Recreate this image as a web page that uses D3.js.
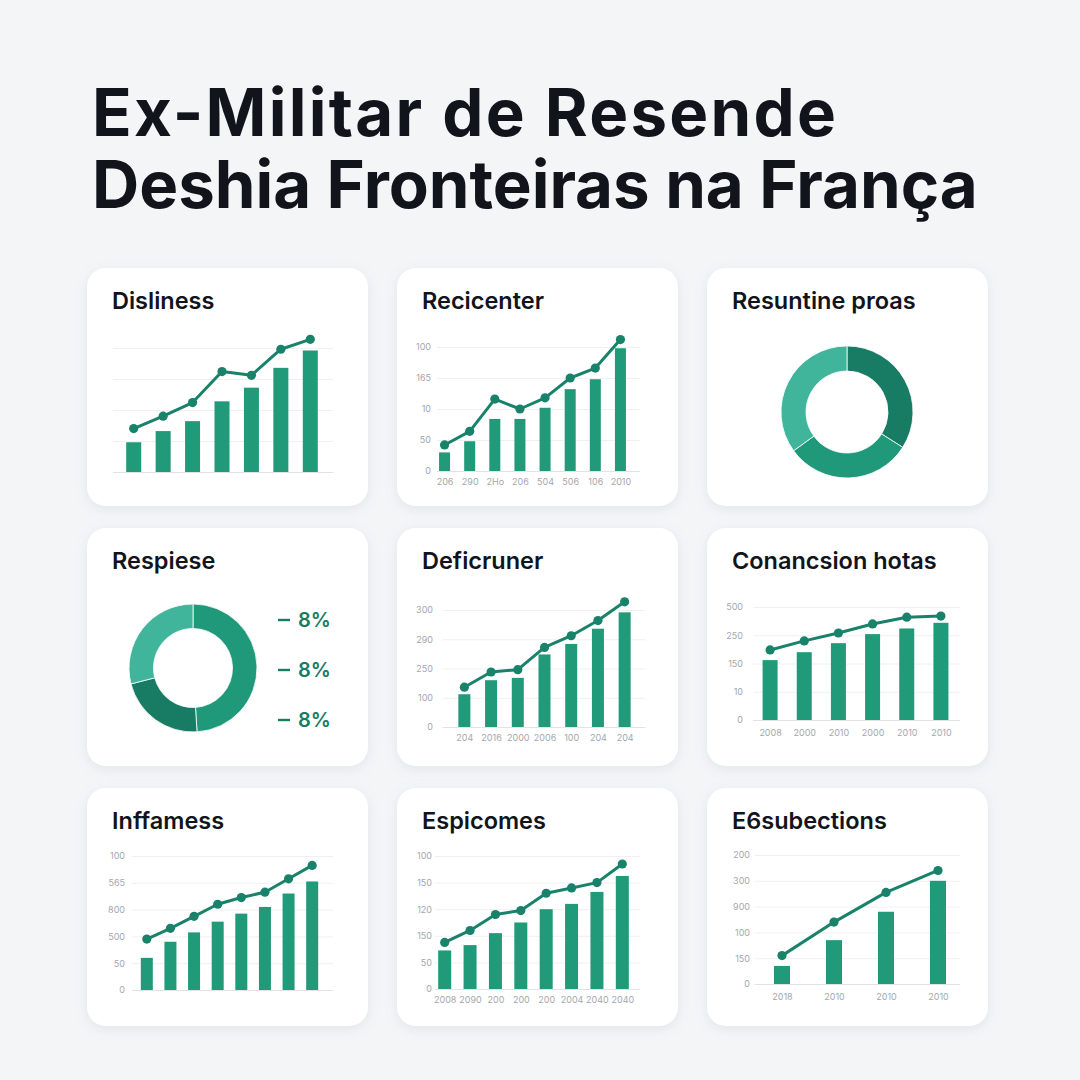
<!DOCTYPE html>
<html><head><meta charset="utf-8">
<script src="https://cdn.jsdelivr.net/npm/d3@7"></script>
<style>
html,body{margin:0;padding:0;background:#f3f5f7;}
svg{display:block;font-family:Inter,"Noto Sans",sans-serif;}
</style>
</head><body>
<svg id="chart" width="1080" height="1080"></svg>
<script>
// ---------- DATA ----------
const titleLines = ["Ex-Militar de Resende", "Deshia Fronteiras na França"];
const cardTitles = ["Disliness", "Recicenter", "Resuntine proas",
                    "Respiese", "Deficruner", "Conancsion hotas",
                    "Inffamess", "Espicomes", "E6subections"];

// 1 Disliness
const disBars = [24, 33, 41, 57, 68, 84, 98];
const disLine = [35, 45, 56, 81, 78, 99, 107];
const disYTicks = ["", "", "", "", ""];

// 2 Recicenter
const recBars = [15, 24, 42, 42, 51, 66, 74, 99];
const recLine = [21, 32, 58, 50, 59, 75, 83, 106];
const recYTicks = ["0", "50", "10", "165", "100"];
const recXTicks = ["206", "290", "2Ho", "206", "504", "506", "106", "2010"];

// 3 Resuntine proas (donut)
const resDonut = [34, 31, 35];

// 4 Respiese (donut + legend)
const respDonut = [49, 22, 29];
const respLegend = ["8%", "8%", "8%"];

// 5 Deficruner
const defBars = [28, 40, 42, 62, 71, 84, 98];
const defLine = [34, 47, 49, 68, 78, 91, 107];
const defYTicks = ["0", "100", "250", "290", "300"];
const defXTicks = ["204", "2016", "2000", "2006", "100", "204", "204"];

// 6 Conancsion hotas
const conBars = [53, 60, 68, 76, 81, 86];
const conLine = [62, 70, 77, 85, 91, 92];
const conYTicks = ["0", "10", "150", "250", "500"];
const conXTicks = ["2008", "2000", "2010", "2000", "2010", "2010"];

// 7 Inffamess
const infBars = [24, 36, 43, 51, 57, 62, 72, 81];
const infLine = [38, 46, 55, 64, 69, 73, 83, 93];
const infYTicks = ["0", "50", "500", "800", "565", "100"];

// 8 Espicomes
const espBars = [29, 33, 42, 50, 60, 64, 73, 85];
const espLine = [35, 44, 56, 59, 72, 76, 80, 94];
const espYTicks = ["0", "50", "150", "120", "150", "100"];
const espXTicks = ["2008", "2090", "200", "200", "200", "2004", "2040", "2040"];

// 9 E6subections
const essBars = [14, 34, 56, 80];
const essLine = [22, 48, 71, 88];
const essYTicks = ["0", "150", "100", "900", "300", "200"];
const essXTicks = ["2018", "2010", "2010", "2010"];

// ---------- STYLE / LAYOUT ----------
const C = {
  bar: "#219a7a", line: "#19826a",
  dark: "#177c63", mid: "#20997a", light: "#40b59b",
  grid: "#eef0f2", axis: "#e1e4e7", tick: "#a3a8ad",
  title: "#11141b"
};
const colX = [87, 397, 707], rowY = [268, 528, 788];
const cardW = 281, cardH = 238;

const svg = d3.select("#chart");
const defs = svg.append("defs");
const f = defs.append("filter").attr("id", "sh").attr("x", "-20%").attr("y", "-20%").attr("width", "140%").attr("height", "140%");
f.append("feDropShadow").attr("dx", 0).attr("dy", 3).attr("stdDeviation", 6)
  .attr("flood-color", "#8a96a3").attr("flood-opacity", 0.16);

svg.append("rect").attr("width", 1080).attr("height", 1080).attr("fill", "#f3f5f7");

// main title: one text element, two lines, fitted to the reference widths
const tt = svg.append("text").attr("font-size", 60).attr("font-weight", 700).attr("fill", C.title);
const s1 = tt.append("tspan").attr("x", 92).attr("y", 136).text(titleLines[0]);
const s2 = tt.append("tspan").attr("x", 92).attr("y", 208).text(titleLines[1]);
const fs = 60 * 886 / s2.node().getComputedTextLength();
tt.attr("font-size", fs);
const l1 = s1.node().getComputedTextLength();
s1.attr("letter-spacing", Math.max(0, (744 - l1) / (titleLines[0].length - 1)));

// cards
const cards = [];
for (let r = 0; r < 3; r++) for (let c = 0; c < 3; c++) {
  const i = r * 3 + c;
  const g = svg.append("g").attr("transform", `translate(${colX[c]},${rowY[r]})`);
  g.append("rect").attr("width", cardW).attr("height", cardH).attr("rx", 19)
    .attr("fill", "#ffffff").attr("filter", "url(#sh)");
  g.append("text").attr("x", 25).attr("y", 41).text(cardTitles[i])
    .attr("font-size", 23.5).attr("font-weight", 600).attr("fill", C.title);
  cards.push(g);
}

function barLine(g, L, bars, line, yLabels, xLabels) {
  const n = bars.length;
  const y = d3.scaleLinear().domain([0, 100]).range([L.base, L.top]);
  const x = d3.scalePoint().domain(d3.range(n)).range([L.b0, L.b1]).padding(0.5);
  const tv = d3.range(yLabels.length).map(i => i * 100 / (yLabels.length - 1));
  const grid = g.append("g").attr("transform", `translate(${L.g0},0)`)
    .call(d3.axisLeft(y).tickValues(tv).tickSize(-(L.g1 - L.g0)).tickFormat(""));
  grid.select(".domain").remove();
  grid.selectAll("line").attr("stroke", (d) => d === 0 ? C.axis : C.grid).attr("stroke-width", 1);
  if (L.ylab) {
    const ya = g.append("g").attr("transform", `translate(${L.g0},0)`)
      .call(d3.axisLeft(y).tickValues(tv).tickSize(0).tickPadding(L.ypad).tickFormat((d, i) => yLabels[i]));
    ya.select(".domain").remove();
    ya.selectAll("text").attr("fill", C.tick).attr("font-size", 9).attr("font-family", "Inter,sans-serif");
  }
  if (xLabels) {
    const xa = g.append("g").attr("transform", `translate(0,${L.base})`)
      .call(d3.axisBottom(x).tickSize(0).tickPadding(L.xpad).tickFormat(i => xLabels[i]));
    xa.select(".domain").remove();
    xa.selectAll("text").attr("fill", C.tick).attr("font-size", 9).attr("font-family", "Inter,sans-serif");
  }
  g.append("g").selectAll("rect").data(bars).join("rect")
    .attr("x", (d, i) => x(i) - L.bw / 2).attr("width", L.bw)
    .attr("y", d => y(d)).attr("height", d => L.base - y(d)).attr("fill", C.bar);
  g.append("path").datum(line)
    .attr("d", d3.line().x((d, i) => x(i)).y(d => y(d)))
    .attr("fill", "none").attr("stroke", C.line).attr("stroke-width", 3).attr("stroke-linejoin", "round");
  g.append("g").selectAll("circle").data(line).join("circle")
    .attr("cx", (d, i) => x(i)).attr("cy", d => y(d)).attr("r", 4.6).attr("fill", C.line);
}

barLine(cards[0], {g0: 26, g1: 246, top: 80, base: 204, b0: 32, b1: 238, bw: 15, ylab: false}, disBars, disLine, disYTicks, null);
barLine(cards[1], {g0: 40, g1: 243, top: 79, base: 203, b0: 35, b1: 236, bw: 11, ylab: true, ypad: 6, xpad: 8}, recBars, recLine, recYTicks, recXTicks);
barLine(cards[4], {g0: 46, g1: 248, top: 82, base: 199, b0: 54, b1: 241, bw: 12, ylab: true, ypad: 10, xpad: 8}, defBars, defLine, defYTicks, defXTicks);
barLine(cards[5], {g0: 46, g1: 253, top: 79, base: 192, b0: 46, b1: 251, bw: 15, ylab: true, ypad: 10, xpad: 10}, conBars, conLine, conYTicks, conXTicks);
barLine(cards[6], {g0: 45, g1: 246, top: 68, base: 202, b0: 48, b1: 237, bw: 12, ylab: true, ypad: 7}, infBars, infLine, infYTicks, null);
barLine(cards[7], {g0: 38, g1: 243, top: 68, base: 201, b0: 35, b1: 238, bw: 13, ylab: true, ypad: 3, xpad: 8}, espBars, espLine, espYTicks, espXTicks);
barLine(cards[8], {g0: 48, g1: 253, top: 67, base: 196, b0: 49, b1: 257, bw: 16, ylab: true, ypad: 5, xpad: 10}, essBars, essLine, essYTicks, essXTicks);

function donut(g, cx, cy, ro, ri, vals, cols) {
  const pie = d3.pie().sort(null)(vals);
  const arc = d3.arc().outerRadius(ro).innerRadius(ri);
  g.append("g").attr("transform", `translate(${cx},${cy})`)
    .selectAll("path").data(pie).join("path")
    .attr("d", arc).attr("fill", (d, i) => cols[i]).attr("stroke", "#ffffff").attr("stroke-width", 0.8);
}
donut(cards[2], 140, 144, 66, 41, resDonut, [C.dark, C.mid, C.light]);
donut(cards[3], 106, 140, 64, 39.5, respDonut, [C.mid, C.dark, C.light]);

const lg = cards[3].append("g").selectAll("g").data(respLegend).join("g")
  .attr("transform", (d, i) => `translate(191,${92 + i * 50})`);
lg.append("line").attr("x1", 0).attr("x2", 12).attr("y1", 0).attr("y2", 0)
  .attr("stroke", C.dark).attr("stroke-width", 2.4);
lg.append("text").attr("x", 20).attr("y", 0).attr("dy", "0.35em").text(d => d)
  .attr("font-size", 20).attr("font-weight", 600).attr("fill", C.dark);
</script>
</body></html>
